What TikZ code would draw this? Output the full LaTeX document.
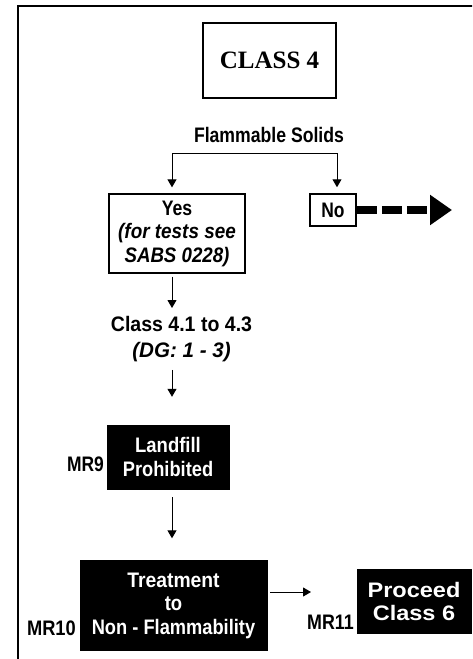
\documentclass[tikz,border=0pt]{standalone}
\usepackage{fontspec}
\usepackage{graphicx}
\setmainfont{Liberation Sans}
\newfontfamily\serifbf{Liberation Serif}
\usetikzlibrary{arrows.meta}
\newcommand{\nx}[2]{\scalebox{#1}[1]{#2}}
\begin{document}
\begin{tikzpicture}[x=1pt,y=-1pt,
  arr/.style={line width=1pt,-{Triangle[length=8pt,width=9pt]}},
  txt/.style={font=\fontsize{21}{23.5}\selectfont\bfseries},
  wbox/.style={draw,line width=1.3pt,inner sep=0pt,align=center,txt},
  bbox/.style={draw,fill=black,text=white,inner sep=0pt,align=center,txt},
  lbl/.style={inner sep=0pt,align=center,txt},
  mr/.style={inner sep=0pt,txt}]
\useasboundingbox (0,0) rectangle (472,659);
\clip (0,0) rectangle (472,659);
\fill[white] (0,0) rectangle (472,659);
\draw[line width=2pt] (18,660) -- (18,6) -- (473,6);
% title
\node[draw,line width=2pt,minimum width=133pt,minimum height=75pt,inner sep=0pt,font=\serifbf\fontsize{25}{28}\selectfont\bfseries] (c4) at (269.5,60.5) {CLASS 4};
\node[lbl] (fs) at (269,135) {\nx{0.84}{Flammable Solids}};
% boxes
\node[wbox,minimum width=136pt,minimum height=79pt] (yes) at (177,233.5) {\nx{0.84}{Yes}\\\nx{0.9}{\itshape (for tests see}\\\nx{0.89}{\itshape SABS 0228)}};
\node[wbox,line width=1.5pt,minimum width=46pt,minimum height=32pt] (no) at (333,210) {\nx{0.83}{No}};
\node[lbl,font=\fontsize{21}{26}\selectfont\bfseries] (cls) at (181.5,339) {\nx{0.93}{Class 4.1 to 4.3}\\\nx{0.98}{\itshape (DG: 1 - 3)}};
\node[bbox,minimum width=122pt,minimum height=64pt] (lf) at (168,457) {\nx{0.88}{Landfill}\\\nx{0.87}{Prohibited}};
\node[bbox,minimum width=187pt,minimum height=90pt] (tr) at (173.5,605.5) {\nx{0.92}{Treatment}\\\nx{0.88}{to}\\\nx{0.87}{Non - Flammability}};
\node[bbox,minimum width=114pt,minimum height=64pt] (pc) at (414,601.5) {\nx{1.12}{Proceed}\\\nx{1.12}{Class 6}};
% labels
\node[mr,anchor=east] (mr9) at (104,464.5) {\nx{0.83}{MR9}};
\node[mr,anchor=east] (mr10) at (76,628) {\nx{0.87}{MR10}};
\node[mr,anchor=east] (mr11) at (354,622) {\nx{0.85}{MR11}};
% connectors
\coordinate (bl) at (172,153);
\coordinate (br) at (337,153);
\coordinate (ax) at (172,0);
\draw[line width=1pt] (bl) -- (br);
\draw[arr,shorten >=6pt] (bl) -- (bl |- yes.north);
\draw[arr,shorten >=6pt] (br) -- (br |- no.north);
\draw[arr,shorten <=3pt,shorten >=8pt] (yes.south -| ax) -- (cls.north -| ax);
\draw[arr,shorten <=8pt,shorten >=28pt] (cls.south -| ax) -- (lf.north -| ax);
\draw[arr,shorten <=8pt,shorten >=22pt] (lf.south -| ax) -- (tr.north -| ax);
\coordinate (h1) at (270,592);
\coordinate (h2) at (311,592);
\draw[arr] (h1) -- (h2);
\coordinate (noend) at (452,210);
\draw[line width=8pt,dash pattern=on 20pt off 5pt,-{Triangle[length=22pt,width=29pt]}] (no.east) -- (noend);
\end{tikzpicture}
\end{document}
